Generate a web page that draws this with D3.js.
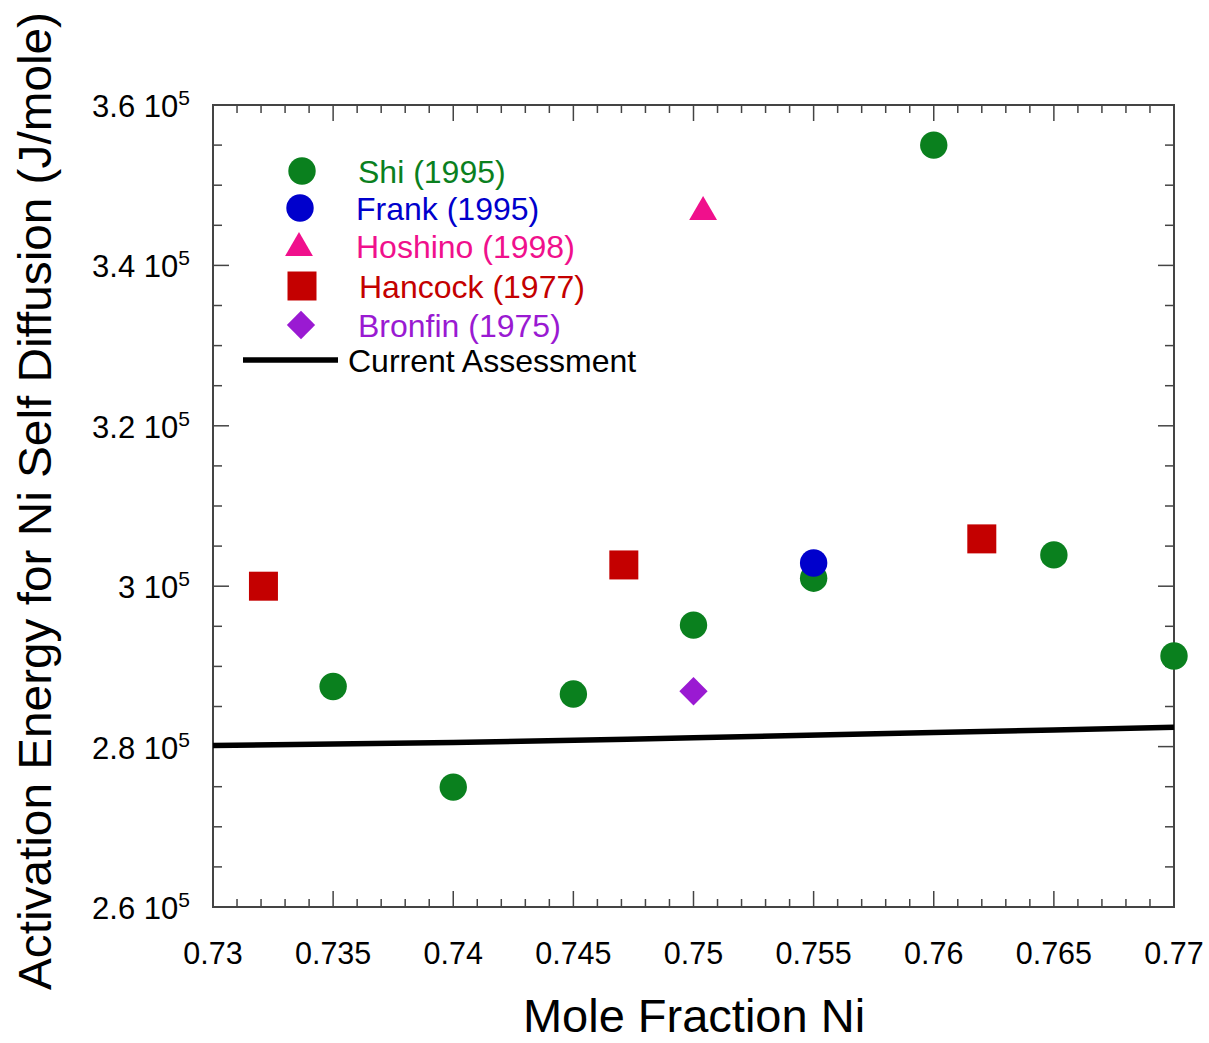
<!DOCTYPE html>
<html><head><meta charset="utf-8">
<script src="https://cdn.jsdelivr.net/npm/d3@7"></script>
<style>body{margin:0;background:#fff}svg{display:block}text{font-family:"Liberation Sans",Arial,sans-serif}</style>
</head><body><div id="chart"></div>
<script>
const shiX = [0.735, 0.74, 0.745, 0.75, 0.755, 0.76, 0.765, 0.77];
const shiY = [287500, 274950, 286550, 295150, 301000, 355000, 303900, 291300];
const frankX = [0.755];
const frankY = [302900];
const hoshinoX = [0.7504];
const hoshinoY = [346900];
const hancockX = [0.7321, 0.7471, 0.7620];
const hancockY = [300000, 302650, 305900];
const bronfinX = [0.75];
const bronfinY = [286900];
const assessX = [0.73, 0.74, 0.75, 0.76, 0.77];
const assessY = [280150, 280500, 281100, 281750, 282400];
const xTicks = [0.73, 0.735, 0.74, 0.745, 0.75, 0.755, 0.76, 0.765, 0.77];
const xTickLabels = ["0.73", "0.735", "0.74", "0.745", "0.75", "0.755", "0.76", "0.765", "0.77"];
const yTicks = [260000, 280000, 300000, 320000, 340000, 360000];
const yTickMant = ["2.6", "2.8", "3", "3.2", "3.4", "3.6"];
const series = ["Shi (1995)", "Frank (1995)", "Hoshino (1998)", "Hancock (1977)", "Bronfin (1975)"];
const colors = ["#0a801e", "#0000cc", "#f0108c", "#c40000", "#9a1ad2"];

const W = 1209, H = 1043;
const svg = d3.select("#chart").append("svg").attr("width", W).attr("height", H);
const L = 213, R = 1174, T = 105, B = 907;
const x = d3.scaleLinear().domain([0.73, 0.77]).range([L, R]);
const y = d3.scaleLinear().domain([260000, 360000]).range([B, T]);

const axCol = "#444";
const xMinor = d3.range(0, 41).map(i => 0.73 + i * 0.001);
const yMinor = d3.range(0, 21).map(i => 260000 + i * 5000);
const g = svg.append("g");
xMinor.forEach((v, i) => {
  const major = i % 5 === 0;
  const len = major ? 16 : 8;
  g.append("line").attr("x1", x(v)).attr("x2", x(v)).attr("y1", B).attr("y2", B - len).attr("stroke", axCol).attr("stroke-width", 1.5);
  g.append("line").attr("x1", x(v)).attr("x2", x(v)).attr("y1", T).attr("y2", T + len).attr("stroke", axCol).attr("stroke-width", 1.5);
});
yMinor.forEach((v, i) => {
  const major = i % 4 === 0;
  const len = major ? 16 : 9;
  g.append("line").attr("y1", y(v)).attr("y2", y(v)).attr("x1", L).attr("x2", L + len).attr("stroke", axCol).attr("stroke-width", 1.5);
  g.append("line").attr("y1", y(v)).attr("y2", y(v)).attr("x1", R).attr("x2", R - len).attr("stroke", axCol).attr("stroke-width", 1.5);
});
g.append("rect").attr("x", L).attr("y", T).attr("width", R - L).attr("height", B - T)
  .attr("fill", "none").attr("stroke", axCol).attr("stroke-width", 2);

xTicks.forEach((v, i) => {
  svg.append("text").attr("x", x(v)).attr("y", B + 57).attr("text-anchor", "middle")
    .attr("font-size", 30.5).attr("fill", "#000").text(xTickLabels[i]);
});
yTicks.forEach((v, i) => {
  const t = svg.append("text").attr("x", 190).attr("y", y(v) + 12).attr("text-anchor", "end")
    .attr("font-size", 31).attr("fill", "#000");
  t.append("tspan").text(yTickMant[i] + " 10");
  t.append("tspan").attr("dy", -12).attr("font-size", 21).text("5");
});

svg.append("text").attr("x", 694).attr("y", 1032).attr("text-anchor", "middle")
  .attr("font-size", 47).attr("fill", "#000").text("Mole Fraction Ni");
svg.append("text").attr("transform", "translate(51,501) rotate(-90)").attr("text-anchor", "middle")
  .attr("font-size", 46).attr("fill", "#000")
  .style("font-family", '"Liberation Sans Narrow","Arial Narrow","Liberation Sans",sans-serif')
  .attr("textLength", 978).attr("lengthAdjust", "spacingAndGlyphs")
  .text("Activation Energy for Ni Self Diffusion (J/mole)");

const line = d3.line().x((d, i) => x(assessX[i])).y(d => y(d)).curve(d3.curveMonotoneX);
svg.append("path").attr("d", line(assessY)).attr("fill", "none").attr("stroke", "#000").attr("stroke-width", 5.5);

const sym = {
  circle: d3.symbol().type(d3.symbolCircle).size(Math.PI * 13.7 * 13.7),
  triangle: d3.symbol().type(d3.symbolTriangle).size(28 * 24 / 2),
  square: d3.symbol().type(d3.symbolSquare).size(29 * 29),
  diamond: d3.symbol().type(d3.symbolSquare).size(20 * 20)
};
function draw(xs, ys, kind, col) {
  xs.forEach((xv, i) => {
    let tr = `translate(${x(xv)},${y(ys[i])})`;
    if (kind === "diamond") tr += " rotate(45)";
    if (kind === "triangle") tr = `translate(${x(xv)},${y(ys[i]) + 2})`;
    svg.append("path").attr("d", sym[kind]()).attr("transform", tr).attr("fill", col);
  });
}
draw(shiX, shiY, "circle", colors[0]);
draw(hancockX, hancockY, "square", colors[3]);
draw(frankX, frankY, "circle", colors[1]);
draw(hoshinoX, hoshinoY, "triangle", colors[2]);
draw(bronfinX, bronfinY, "diamond", colors[4]);

const legMarkX = [302, 300, 299, 302, 301];
const legMarkY = [171, 208, 248, 286, 325];
const legTextX = [358, 356, 356, 359, 358];
const legTextY = [183, 220, 258, 298, 337];
const kinds = ["circle", "circle", "triangle", "square", "diamond"];
series.forEach((s, i) => {
  let tr = `translate(${legMarkX[i]},${legMarkY[i]})`;
  if (kinds[i] === "diamond") tr += " rotate(45)";
  svg.append("path").attr("d", sym[kinds[i]]()).attr("transform", tr).attr("fill", colors[i]);
  svg.append("text").attr("x", legTextX[i]).attr("y", legTextY[i]).attr("font-size", 32)
    .attr("fill", colors[i]).text(s);
});
svg.append("line").attr("x1", 243).attr("x2", 338).attr("y1", 360).attr("y2", 360)
  .attr("stroke", "#000").attr("stroke-width", 5.5);
svg.append("text").attr("x", 348).attr("y", 372).attr("font-size", 32).attr("fill", "#000").text("Current Assessment");
</script></body></html>
